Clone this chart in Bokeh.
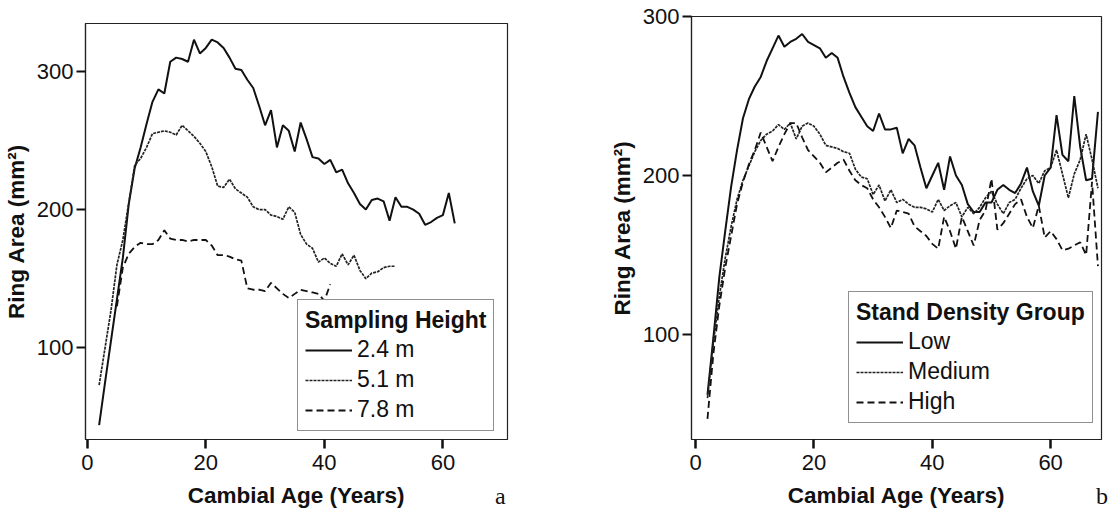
from bokeh.plotting import figure
from bokeh.models import Range1d, Legend, LegendItem, FixedTicker, Div
from bokeh.embed import file_html
from bokeh.resources import INLINE

# ---------------- Panel a: sampling height ----------------
age_24 = list(range(2, 63))
area_24 = [44, 75, 105, 135, 165, 204, 230, 245, 262, 278, 287, 284, 307, 310, 309,
           307, 323, 313, 317, 323, 321, 317, 310, 302, 301, 294, 288, 275, 261, 272,
           245, 261, 257, 242, 263, 251, 238, 237, 233, 236, 227, 229, 219, 212, 204,
           200, 207, 208, 206, 192, 209, 202, 202, 200, 197, 189, 191, 194, 196, 212, 190]
age_51 = list(range(2, 53))
area_51 = [73, 100, 127, 160, 178, 205, 232, 237, 245, 255, 256, 257, 256, 254, 261,
           257, 253, 248, 242, 231, 217, 216, 222, 215, 212, 209, 202, 200, 200, 196,
           195, 193, 202, 198, 182, 175, 172, 162, 165, 161, 159, 168, 160, 167, 156,
           150, 154, 155, 158, 159, 159]
age_78 = list(range(5, 42))
area_78 = [130, 158, 168, 173, 176, 175, 175, 178, 185, 179, 178, 178, 177, 178, 178,
           178, 174, 167, 167, 166, 164, 163, 143, 142, 142, 141, 147, 143, 139, 136,
           139, 142, 141, 140, 139, 134, 146]
labels_a = ["2.4 m", "5.1 m", "7.8 m"]

# ---------------- Panel b: stand density ----------------
age_b = list(range(2, 69))
area_low = [62, 98, 136, 165, 193, 216, 236, 248, 256, 262, 272, 280, 288, 281, 284,
            286, 289, 284, 282, 280, 274, 277, 274, 262, 252, 243, 237, 231, 228, 239,
            229, 229, 230, 214, 223, 219, 205, 192, 200, 208, 191, 212, 200, 194, 182,
            177, 177, 183, 183, 191, 194, 191, 189, 195, 205, 190, 181, 200, 205, 238,
            213, 209, 250, 218, 197, 198, 240]
area_med = [60, 95, 124, 148, 168, 185, 197, 206, 215, 222, 226, 228, 232, 229, 233,
            223, 231, 233, 231, 226, 219, 218, 217, 215, 214, 204, 199, 198, 188, 194,
            184, 191, 183, 185, 182, 180, 180, 179, 177, 185, 178, 181, 183, 174, 180,
            176, 180, 186, 190, 182, 176, 183, 185, 192, 198, 200, 195, 203, 205, 216,
            201, 186, 201, 210, 226, 210, 192]
area_high = [47, 88, 118, 142, 162, 182, 196, 207, 216, 227, 218, 209, 218, 226, 233,
             233, 224, 216, 212, 208, 202, 205, 208, 210, 203, 197, 194, 192, 185, 180,
             174, 167, 178, 177, 176, 168, 165, 162, 157, 154, 174, 165, 154, 174, 165,
             156, 172, 178, 198, 166, 170, 176, 182, 185, 174, 167, 181, 161, 165, 160,
             153, 154, 156, 158, 150, 196, 143]
labels_b = ["Low", "Medium", "High"]

x_ticks = [0, 20, 40, 60]
y_ticks = [100, 200, 300]

FONT = "Liberation Sans"
INK = "#111111"


def style(p, ytitle):
    p.xaxis.ticker = FixedTicker(ticks=x_ticks)
    p.yaxis.ticker = FixedTicker(ticks=y_ticks)
    p.xgrid.visible = False
    p.ygrid.visible = False
    p.outline_line_color = "#222222"
    p.outline_line_width = 1.2
    p.background_fill_color = "white"
    p.border_fill_color = "white"
    for ax in (p.xaxis, p.yaxis):
        ax.axis_line_color = "#222222"
        ax.axis_line_width = 1.2
        ax.major_tick_out = 9
        ax.major_tick_in = 0
        ax.minor_tick_out = 0
        ax.minor_tick_in = 0
        ax.major_tick_line_color = INK
        ax.major_label_text_font = FONT
        ax.major_label_text_font_size = "22px"
        ax.major_label_text_color = INK
        ax.axis_label_text_font = FONT
        ax.axis_label_text_font_size = "22.5px"
        ax.axis_label_text_font_style = "bold"
        ax.axis_label_text_color = INK
    p.xaxis.major_tick_line_width = 2.5
    p.yaxis.major_tick_line_width = 2
    p.xaxis.major_label_standoff = 6
    p.yaxis.major_label_standoff = 3
    p.xaxis.axis_label = "Cambial Age (Years)"
    p.xaxis.axis_label_standoff = 10
    p.yaxis.axis_label = ytitle
    p.yaxis.axis_label_standoff = 5


def make_legend(p, title, items, loc):
    lg = Legend(items=items, location=loc, title=title)
    lg.title_text_font = FONT
    lg.title_text_font_size = "23px"
    lg.title_text_font_style = "bold"
    lg.title_text_color = INK
    lg.title_standoff = 2
    lg.label_text_font = FONT
    lg.label_text_font_size = "23px"
    lg.label_text_color = INK
    lg.glyph_width = 47
    lg.glyph_height = 22
    lg.label_height = 22
    lg.label_standoff = 5
    lg.spacing = 3
    lg.padding = 7
    lg.margin = 0
    lg.border_line_color = "#222222"
    lg.border_line_width = 1.2
    lg.background_fill_color = "white"
    lg.background_fill_alpha = 1
    p.add_layout(lg, "center")


def panel_letter(letter, left, top):
    return Div(text=f'<span style="font-family:\'Liberation Serif\';font-size:24px;'
                    f'line-height:24px;color:{INK}">{letter}</span>',
               width=14, height=24,
               styles={"position": "absolute", "left": f"{left}px", "top": f"{top}px",
                       "margin": "0px", "padding": "0px"})


# ---------------- figure a ----------------
pa = figure(width=558, height=510, x_range=Range1d(-0.3, 70.9), y_range=Range1d(33.6, 334.7),
            output_backend="svg", toolbar_location=None,
            min_border_left=85, min_border_right=51, min_border_top=23, min_border_bottom=70,
            styles={"position": "absolute", "left": "0px", "top": "0px"})
style(pa, "Ring Area (mm²)")
ra1 = pa.line(age_24, area_24, line_color=INK, line_width=2)
ra2 = pa.line(age_51, area_51, line_color="#222222", line_width=1.7, line_dash="3 1")
ra3 = pa.line(age_78, area_78, line_color=INK, line_width=1.8, line_dash="7 4")
make_legend(pa, "Sampling Height",
            [LegendItem(label=labels_a[0], renderers=[ra1]),
             LegendItem(label=labels_a[1], renderers=[ra2]),
             LegendItem(label=labels_a[2], renderers=[ra3])], (212, 8))

# ---------------- figure b ----------------
pb = figure(width=558, height=510, x_range=Range1d(-0.7, 68.6), y_range=Range1d(34, 300),
            output_backend="svg", toolbar_location=None,
            min_border_left=133, min_border_right=15, min_border_top=16, min_border_bottom=71,
            styles={"position": "absolute", "left": "558px", "top": "0px"})
style(pb, "Ring Area (mm²)")
rb1 = pb.line(age_b, area_low, line_color=INK, line_width=2)
rb2 = pb.line(age_b, area_med, line_color="#222222", line_width=1.7, line_dash="3 1")
rb3 = pb.line(age_b, area_high, line_color=INK, line_width=1.8, line_dash="7 4")
make_legend(pb, "Stand Density Group",
            [LegendItem(label=labels_b[0], renderers=[rb1]),
             LegendItem(label=labels_b[1], renderers=[rb2]),
             LegendItem(label=labels_b[2], renderers=[rb3])], (157, 16))

la = panel_letter("a", 495, 484)
lb = panel_letter("b", 1096, 484)

open("out.html", "w").write(file_html([pa, pb, la, lb], INLINE))
